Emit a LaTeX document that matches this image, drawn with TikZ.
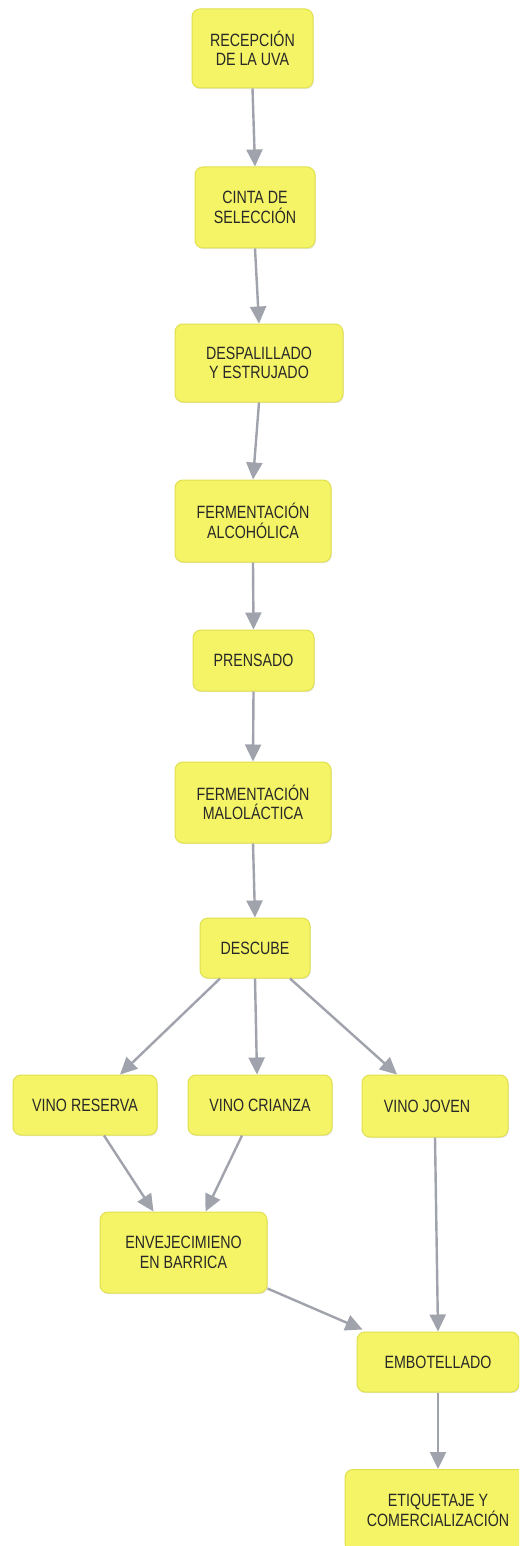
\documentclass[tikz,border=0pt]{standalone}
\usepackage{fontspec}
\setmainfont{Liberation Sans}[FakeStretch=0.8]
\usetikzlibrary{arrows.meta,calc,shadows}

\definecolor{boxfill}{RGB}{244,244,102}
\definecolor{boxline}{RGB}{224,224,80}
\definecolor{flowgrey}{RGB}{160,163,172}
\definecolor{textgrey}{RGB}{40,40,40}

\tikzset{
  stage/.style={draw=boxline, line width=0.5pt, fill=boxfill, rounded corners=4pt,
    align=center, text=textgrey, inner sep=0pt,
    font=\fontsize{8.9}{9.8}\selectfont,
    drop shadow={opacity=0.18, shadow xshift=0.4pt, shadow yshift=-0.6pt}},
  flow/.style={draw=flowgrey, line width=1.2pt, -{Triangle[length=8.5pt,width=8pt]}},
}

\begin{document}
\begin{tikzpicture}[x=0.5pt,y=0.5pt,yscale=-1,xscale=1]
\clip (0,0) rectangle (519,1546);
\fill[white] (0,0) rectangle (519,1546);

%Shape: Rectangle [recepcion]
\node[stage, minimum width=60.5pt, minimum height=39.5pt] (recepcion) at (252.5,48.5) {RECEPCIÓN\\DE LA UVA};
%Shape: Rectangle [cinta]
\node[stage, minimum width=60pt, minimum height=40.5pt] (cinta) at (255,207.5) {CINTA DE\\SELECCIÓN};
%Shape: Rectangle [despalillado]
\node[stage, minimum width=84pt, minimum height=39pt] (despalillado) at (259,363) {DESPALILLADO\\Y ESTRUJADO};
%Shape: Rectangle [alcoholica]
\node[stage, minimum width=78pt, minimum height=41pt] (alcoholica) at (253,521) {FERMENTACIÓN\\ALCOHÓLICA};
%Shape: Rectangle [prensado]
\node[stage, minimum width=60.5pt, minimum height=30.5pt] (prensado) at (253.5,660.5) {PRENSADO};
%Shape: Rectangle [malolactica]
\node[stage, minimum width=78pt, minimum height=40.5pt] (malolactica) at (253,802.5) {FERMENTACIÓN\\MALOLÁCTICA};
%Shape: Rectangle [descube]
\node[stage, minimum width=55pt, minimum height=30pt] (descube) at (255,948) {DESCUBE};
%Shape: Rectangle [reserva]
\node[stage, minimum width=72pt, minimum height=30pt] (reserva) at (85,1105) {VINO RESERVA};
%Shape: Rectangle [crianza]
\node[stage, minimum width=72pt, minimum height=30pt] (crianza) at (260,1105) {VINO CRIANZA};
%Shape: Rectangle [joven]
\node[stage, minimum width=73pt, minimum height=31pt] (joven) at (435,1106) {VINO JOVEN\hspace*{8pt}};
%Shape: Rectangle [barrica]
\node[stage, minimum width=83.5pt, minimum height=40.5pt] (barrica) at (183.5,1252.5) {ENVEJECIMIENO\\EN BARRICA};
%Shape: Rectangle [embotellado]
\node[stage, minimum width=81pt, minimum height=30pt] (embotellado) at (438,1362) {EMBOTELLADO};
%Shape: Rectangle [etiquetaje]
\node[stage, minimum width=93pt, minimum height=41pt] (etiquetaje) at (438,1510.5) {ETIQUETAJE Y\\COMERCIALIZACIÓN};

%Straight Lines
\draw[flow] (recepcion.south) -- (cinta.north);
\draw[flow] (cinta.south) -- (despalillado.north);
\draw[flow] (despalillado.south) -- (alcoholica.north);
\draw[flow] (alcoholica.south) -- (prensado.north);
\draw[flow] (prensado.south) -- (malolactica.north);
\draw[flow] (malolactica.south) -- (descube.north);
%Straight Lines
\draw[flow] ($(descube.south)+(-35,0)$) -- ($(reserva.north)+(35,0)$);
\draw[flow] (descube.south) -- ($(crianza.north)+(-3,0)$);
\draw[flow] ($(descube.south)+(35,0)$) -- ($(joven.north)+(-38,0)$);
%Straight Lines
\draw[flow] ($(reserva.south)+(19,0)$) -- ($(barrica.north)+(-30,0)$);
\draw[flow] ($(crianza.south)+(-18,0)$) -- ($(barrica.north)+(22,0)$);
\draw[flow] (joven.south) -- (embotellado.north);
\draw[flow] ($(barrica.south east)+(0,-5)$) -- ($(embotellado.north west)+(6,-2)$);
\draw[flow] (embotellado.south) -- (etiquetaje.north);

\end{tikzpicture}
\end{document}
